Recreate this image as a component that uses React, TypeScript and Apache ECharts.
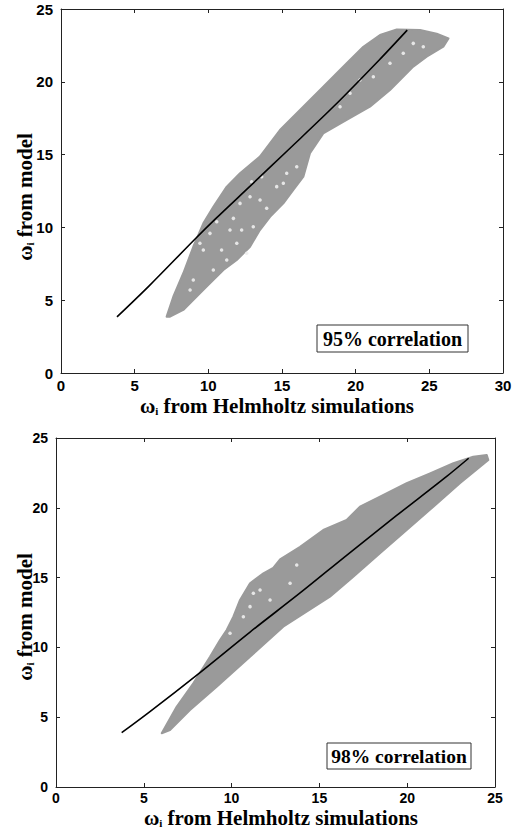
import React, { useEffect, useRef } from "react";
import * as echarts from "echarts";

// ---- Data ----
// Top panel (95% correlation): outline of the grey scatter cloud
const topCloudUpper: [number, number][] = [
  [7.17, 3.87], [7.62, 5.24], [8.3, 6.85], [8.98, 8.67], [9.66, 10.28], [10.34, 11.42],
  [11.25, 12.8], [12.15, 13.72], [13.5, 14.86], [14.86, 16.69], [16.22, 18.06],
  [17.8, 19.66], [19.39, 21.27], [20.52, 22.41], [21.65, 23.21], [22.79, 23.6],
  [24.37, 23.56], [25.5, 23.3], [26.3, 22.98],
];
const topCloudLower: [number, number][] = [
  [25.95, 22.41], [24.82, 21.73], [23.91, 21.04], [22.33, 19.44], [20.97, 18.29],
  [19.39, 17.38], [17.8, 16.46], [16.9, 15.09], [16.45, 13.48], [15.77, 12.57],
  [15.09, 11.65], [14.19, 10.73], [13.5, 9.82], [12.83, 8.67], [11.93, 7.76],
  [11.02, 7.07], [10.11, 6.16], [9.43, 5.47], [8.3, 4.33], [7.4, 3.87],
];
// white gaps visible inside the top cloud
const topCloudGaps: [number, number][] = [
  [12.94, 13.14], [13.62, 13.48], [15.32, 13.72], [14.64, 12.8], [12.83, 12.11],
  [13.51, 11.88], [12.15, 11.65], [13.96, 11.31], [11.47, 9.82], [12.26, 9.82],
  [13.05, 10.05], [11.7, 10.62], [10.57, 10.39], [10.9, 8.45], [9.66, 8.45],
  [11.25, 7.76], [10.34, 7.07], [8.98, 6.39], [8.76, 5.7], [9.43, 8.91],
  [12.6, 8.22], [10.11, 9.59], [15.09, 13.03], [16.0, 14.17], [11.93, 8.91],
  [23.91, 22.64], [24.59, 22.41], [23.23, 21.96], [22.33, 21.27], [21.2, 20.35],
  [20.29, 20.12], [18.94, 18.29], [19.62, 19.21],
];
const topFitLine: [number, number][] = [
  [3.8, 3.85], [6.0, 6.0], [9.0, 9.1], [10.5, 10.6], [12.8, 12.8],
  [15.4, 15.3], [18.5, 18.3], [21.6, 21.5], [23.5, 23.55],
];

// Bottom panel (98% correlation)
const bottomCloudUpper: [number, number][] = [
  [6.02, 3.85], [6.87, 5.75], [7.82, 7.43], [8.77, 9.33], [9.34, 10.53], [9.72, 11.25],
  [10.1, 12.2], [10.48, 13.4], [11.05, 14.59], [11.81, 15.31], [12.37, 15.7],
  [12.76, 16.3], [13.9, 17.21], [15.22, 18.41], [16.55, 19.13], [17.31, 20.08],
  [18.45, 20.8], [19.97, 21.76], [21.3, 22.47], [22.63, 23.19], [23.76, 23.66],
  [24.53, 23.78], [24.62, 23.42],
];
const bottomCloudLower: [number, number][] = [
  [24.15, 22.94], [23.0, 21.76], [21.49, 20.08], [19.97, 18.41], [18.45, 16.74],
  [16.93, 15.06], [15.6, 13.63], [12.94, 11.48], [11.05, 9.33], [9.15, 7.18],
  [7.63, 5.52], [6.49, 4.08], [6.02, 3.85],
];
const bottomCloudGaps: [number, number][] = [
  [13.71, 15.9], [12.19, 13.4], [11.62, 14.11], [11.24, 13.88], [10.67, 12.2],
  [9.91, 11.01], [13.33, 14.59], [11.05, 12.92],
];
const bottomFitLine: [number, number][] = [
  [3.74, 3.89], [5.35, 5.4], [8.2, 8.2], [11.05, 11.1], [13.9, 13.9],
  [16.55, 16.6], [19.4, 19.45], [22.25, 22.25], [23.5, 23.55],
];

const topXRange = [0, 30];
const bottomXRange = [0, 25];
const yRange = [0, 25];
const tickStep = 5;
const correlationLabels = ["95% correlation", "98% correlation"];
const xTitle = "ω{i|i} from Helmholtz simulations";
const yTitle = "ω{i|i} from model";

const SERIF = "Liberation Serif";
const SANS = "Liberation Sans";
const GREY = "#9a9a9a";
const AXIS = "#222";

function makeX(grid: number, range: number[], pos: "bottom" | "top", fs: number, margin: number) {
  return {
    gridIndex: grid,
    type: "value",
    min: range[0],
    max: range[1],
    interval: tickStep,
    position: pos,
    axisLine: { show: true, onZero: false, lineStyle: { color: AXIS, width: 1 } },
    axisTick: { show: true, inside: true, length: 4, lineStyle: { color: AXIS } },
    axisLabel: {
      show: pos === "bottom",
      fontFamily: SANS,
      fontWeight: "bold",
      fontSize: fs,
      color: "#000",
      margin,
    },
    splitLine: { show: false },
  };
}

function makeY(grid: number, pos: "left" | "right", fs: number) {
  return {
    gridIndex: grid,
    type: "value",
    min: yRange[0],
    max: yRange[1],
    interval: tickStep,
    position: pos,
    axisLine: { show: true, onZero: false, lineStyle: { color: AXIS, width: 1 } },
    axisTick: { show: true, inside: true, length: 4, lineStyle: { color: AXIS } },
    axisLabel: {
      show: pos === "left",
      fontFamily: SANS,
      fontWeight: "bold",
      fontSize: fs,
      color: "#000",
      margin: 8,
    },
    splitLine: { show: false },
  };
}

function cloudSeries(xi: number, yi: number, upper: [number, number][], lower: [number, number][]) {
  const outline = upper.concat(lower);
  return {
    type: "custom",
    xAxisIndex: xi,
    yAxisIndex: yi,
    silent: true,
    data: [outline[0]],
    renderItem: (_params: any, api: any) => ({
      type: "polygon",
      shape: { points: outline.map((p) => api.coord(p)) },
      style: { fill: GREY, stroke: GREY, lineWidth: 2, lineJoin: "round" },
    }),
    z: 1,
  };
}

function gapSeries(xi: number, yi: number, data: [number, number][]) {
  return {
    type: "scatter",
    xAxisIndex: xi,
    yAxisIndex: yi,
    data,
    symbol: "circle",
    symbolSize: 3.5,
    itemStyle: { color: "#eeeeee", opacity: 0.9 },
    silent: true,
    z: 2,
  };
}

function fitSeries(xi: number, yi: number, data: [number, number][]) {
  return {
    type: "line",
    xAxisIndex: xi,
    yAxisIndex: yi,
    data,
    symbol: "none",
    smooth: 0.3,
    lineStyle: { color: "#000", width: 1.6 },
    silent: true,
    z: 3,
  };
}

function titleText(text: string, x: number, y: number, vertical: boolean) {
  return {
    type: "text",
    x,
    y,
    rotation: vertical ? Math.PI / 2 : 0,
    z: 12,
    style: {
      text,
      fontFamily: SERIF,
      fontWeight: "bold",
      fontSize: 21,
      fill: "#000",
      align: "center",
      verticalAlign: "middle",
      rich: {
        i: { fontFamily: SERIF, fontWeight: "bold", fontSize: 11, fill: "#000", verticalAlign: "bottom" },
      },
    },
  };
}

export default function App() {
  const ref = useRef<HTMLDivElement>(null);
  useEffect(() => {
    if (!ref.current) return;
    const chart = echarts.init(ref.current, null, { renderer: "svg" });
    chart.setOption({
      animation: false,
      backgroundColor: "#fff",
      grid: [
        { left: 61, top: 9, width: 442, height: 364 },
        { left: 56, top: 438, width: 439, height: 349 },
      ],
      xAxis: [
        makeX(0, topXRange, "bottom", 15, 5),
        makeX(0, topXRange, "top", 15, 5),
        makeX(1, bottomXRange, "bottom", 14, 4),
        makeX(1, bottomXRange, "top", 14, 4),
      ],
      yAxis: [
        makeY(0, "left", 15),
        makeY(0, "right", 15),
        makeY(1, "left", 14),
        makeY(1, "right", 14),
      ],
      series: [
        cloudSeries(0, 0, topCloudUpper, topCloudLower),
        gapSeries(0, 0, topCloudGaps),
        fitSeries(0, 0, topFitLine),
        cloudSeries(2, 2, bottomCloudUpper, bottomCloudLower),
        gapSeries(2, 2, bottomCloudGaps),
        fitSeries(2, 2, bottomFitLine),
      ],
      graphic: [
        titleText(xTitle, 277, 405.5, false),
        titleText(yTitle, 25, 197, true),
        titleText(xTitle, 281, 817.5, false),
        titleText(yTitle, 25, 617, true),
        { type: "rect", shape: { x: 317, y: 325, width: 151, height: 27 }, style: { fill: "#fff", stroke: "#333", lineWidth: 1 }, z: 10 },
        {
          type: "text", x: 392.5, y: 339, z: 11,
          style: { text: correlationLabels[0], fontFamily: SERIF, fontWeight: "bold", fontSize: 20, fill: "#000", align: "center", verticalAlign: "middle" },
        },
        { type: "rect", shape: { x: 327, y: 743, width: 144, height: 26 }, style: { fill: "#fff", stroke: "#333", lineWidth: 1 }, z: 10 },
        {
          type: "text", x: 399, y: 756.5, z: 11,
          style: { text: correlationLabels[1], fontFamily: SERIF, fontWeight: "bold", fontSize: 19.5, fill: "#000", align: "center", verticalAlign: "middle" },
        },
      ],
    });
    return () => chart.dispose();
  }, []);
  return (
    <div
      ref={ref}
      style={{ position: "absolute", left: 0, top: 0, width: 527, height: 829, background: "#fff" }}
    />
  );
}
